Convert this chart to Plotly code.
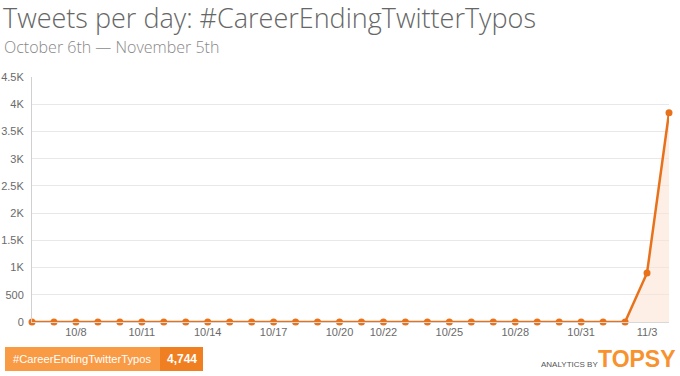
import plotly.graph_objects as go
import pandas as pd

# ---- data ----
dates = pd.date_range("2013-10-06", "2013-11-04", freq="D").strftime("%Y-%m-%d").tolist()
tweets = [0] * 27 + [0, 900, 3844]
tick_dates = ["2013-10-08", "2013-10-11", "2013-10-14", "2013-10-17", "2013-10-20",
              "2013-10-22", "2013-10-25", "2013-10-28", "2013-10-31", "2013-11-03"]
tick_labels = ["10/8", "10/11", "10/14", "10/17", "10/20",
               "10/22", "10/25", "10/28", "10/31", "11/3"]
y_ticks = [0, 500, 1000, 1500, 2000, 2500, 3000, 3500, 4000, 4500]
y_labels = ["0", "500", "1K", "1.5K", "2K", "2.5K", "3K", "3.5K", "4K", "4.5K"]
title = "Tweets per day: #CareerEndingTwitterTypos"
subtitle = "October 6th \u2014 November 5th"
hashtag = "#CareerEndingTwitterTypos"
total = "{:,}".format(sum(tweets))

W, H = 680, 376
L, R, T, B = 32, 11, 77, 54
pw, ph = W - L - R, H - T - B

def px(x):
    return (x - L) / pw

def py(y):
    return (H - B - y) / ph

ORANGE = "#E8721C"

fig = go.Figure()
fig.add_trace(go.Scatter(
    x=dates, y=tweets, mode="lines+markers",
    line=dict(color=ORANGE, width=2.5),
    marker=dict(color=ORANGE, size=7),
    fill="tozeroy", fillcolor="rgba(251,226,208,0.55)",
    cliponaxis=False, hoverinfo="x+y",
))

fig.update_layout(
    width=W, height=H,
    margin=dict(l=L, r=R, t=T, b=B, autoexpand=False),
    paper_bgcolor="white", plot_bgcolor="white",
    showlegend=False,
    font=dict(family="Arial, Liberation Sans, sans-serif", color="#666", size=11),
    xaxis=dict(
        range=[dates[0], dates[-1]], tickmode="array", tickvals=tick_dates, ticktext=tick_labels,
        showgrid=False, showline=True, linecolor="#d8d8d8", zeroline=False, automargin=False,
        ticks="", tickfont=dict(size=11, color="#6a6a6a"),
    ),
    yaxis=dict(
        range=[0, 4500], tickmode="array", tickvals=y_ticks, ticktext=y_labels,
        showgrid=True, gridcolor="#e8e8e8", gridwidth=1, automargin=False,
        showline=True, linecolor="#d0d0d0", zeroline=False,
        ticks="outside", ticklen=5, tickcolor="rgba(0,0,0,0)",
        tickfont=dict(size=11, color="#6a6a6a"),
    ),
)

annotations = [
    dict(text=title, x=px(2), y=py(-2), xanchor="left", yanchor="top",
         font=dict(family="Open Sans", size=27, color="#666", weight=300)),
    dict(text=subtitle, x=px(3), y=py(35), xanchor="left", yanchor="top",
         font=dict(family="Open Sans", size=16, color="#888", weight=300)),
    dict(text=hashtag, x=px(12), y=py(359), xanchor="left", yanchor="middle",
         font=dict(family="Arial", size=11.2, color="white")),
    dict(text="<b>" + total + "</b>", x=px(181.5), y=py(359), xanchor="center", yanchor="middle",
         font=dict(family="Arial", size=12, color="white")),
    dict(text="ANALYTICS BY", x=px(599), y=py(364), xanchor="right", yanchor="middle",
         font=dict(family="Arial", size=8, color="#555")),
    dict(text="<b>TOPSY</b>", x=px(677), y=py(359), xanchor="right", yanchor="middle",
         font=dict(family="Arial", size=23, color="#F7922F")),
]
for a in annotations:
    a.update(xref="paper", yref="paper", showarrow=False, borderpad=0)

fig.update_layout(annotations=annotations, shapes=[
    dict(type="rect", xref="paper", yref="paper", x0=px(5), x1=px(160), y0=py(371), y1=py(347),
         fillcolor="#F99A45", line=dict(width=0), layer="above"),
    dict(type="rect", xref="paper", yref="paper", x0=px(160), x1=px(203), y0=py(371), y1=py(347),
         fillcolor="#F07F22", line=dict(width=0), layer="above"),
])

fig.write_html("out.html", config={"displayModeBar": False},
               post_script="document.body.style.margin='0';")
